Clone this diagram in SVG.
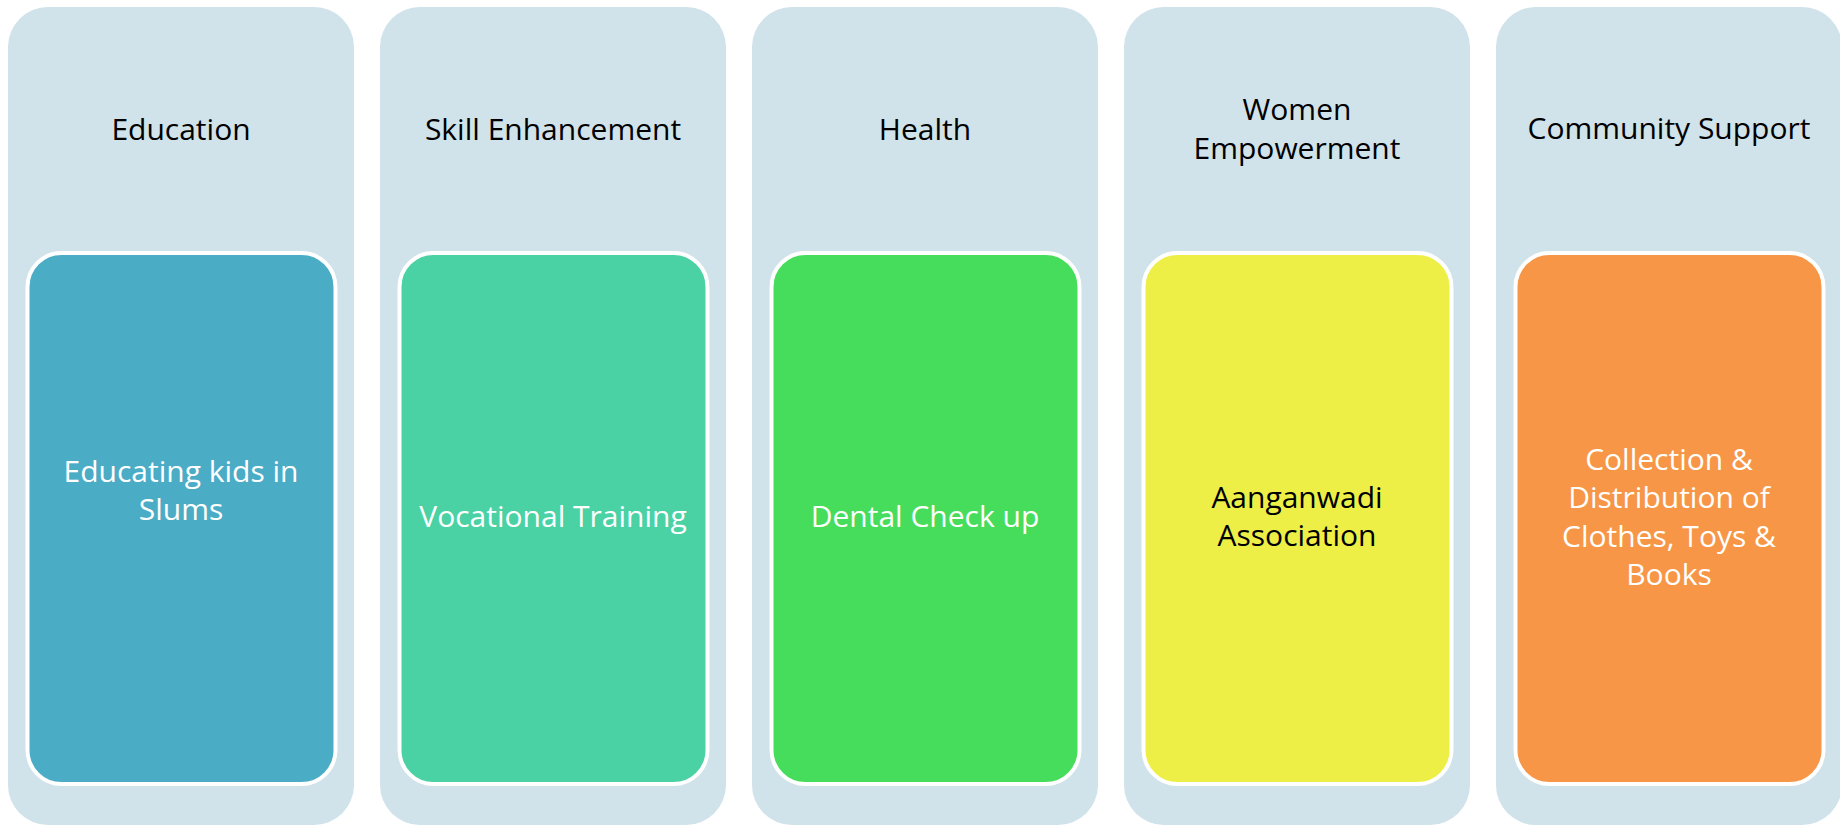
<svg xmlns="http://www.w3.org/2000/svg" width="1840" height="825" viewBox="0 0 1840 825">
  <style>
    .panel { fill: #D0E2EA; }
    .card { stroke: #FFFFFF; stroke-width: 4; }
    .title { font-family: "Open Sans", "Noto Sans", sans-serif; font-size: 30px; fill: #000000; text-anchor: middle; }
    .label { font-family: "Open Sans", "Noto Sans", sans-serif; font-size: 30px; fill: #FFFFFF; text-anchor: middle; }
    .dark { fill: #000000; }
  </style>
  <rect width="1840" height="825" fill="#FFFFFF"/>

  <g id="education">
    <rect class="panel" x="8" y="7" width="346" height="818" rx="40"/>
    <text class="title" x="181" y="140">Education</text>
    <rect class="card" x="27.5" y="253" width="308" height="531" rx="34" fill="#4BACC6"/>
    <text class="label" x="181" y="482">Educating kids in</text>
    <text class="label" x="181" y="520">Slums</text>
  </g>

  <g id="skill-enhancement">
    <rect class="panel" x="380" y="7" width="346" height="818" rx="40"/>
    <text class="title" x="553" y="140">Skill Enhancement</text>
    <rect class="card" x="399.5" y="253" width="308" height="531" rx="34" fill="#4AD2A4"/>
    <text class="label" x="553" y="527">Vocational Training</text>
  </g>

  <g id="health">
    <rect class="panel" x="752" y="7" width="346" height="818" rx="40"/>
    <text class="title" x="925" y="140">Health</text>
    <rect class="card" x="771.5" y="253" width="308" height="531" rx="34" fill="#47DD5C"/>
    <text class="label" x="925" y="527">Dental Check up</text>
  </g>

  <g id="women-empowerment">
    <rect class="panel" x="1124" y="7" width="346" height="818" rx="40"/>
    <text class="title" x="1297" y="120">Women</text>
    <text class="title" x="1297" y="159">Empowerment</text>
    <rect class="card" x="1143.5" y="253" width="308" height="531" rx="34" fill="#EDEF47"/>
    <text class="label dark" x="1297" y="508">Aanganwadi</text>
    <text class="label dark" x="1297" y="546">Association</text>
  </g>

  <g id="community-support">
    <rect class="panel" x="1496" y="7" width="346" height="818" rx="40"/>
    <text class="title" x="1669" y="139">Community Support</text>
    <rect class="card" x="1515.5" y="253" width="308" height="531" rx="34" fill="#F79646"/>
    <text class="label" x="1669" y="470">Collection &amp;</text>
    <text class="label" x="1669" y="508">Distribution of</text>
    <text class="label" x="1669" y="547">Clothes, Toys &amp;</text>
    <text class="label" x="1669" y="585">Books</text>
  </g>

  <g id="connectors"/>
</svg>
